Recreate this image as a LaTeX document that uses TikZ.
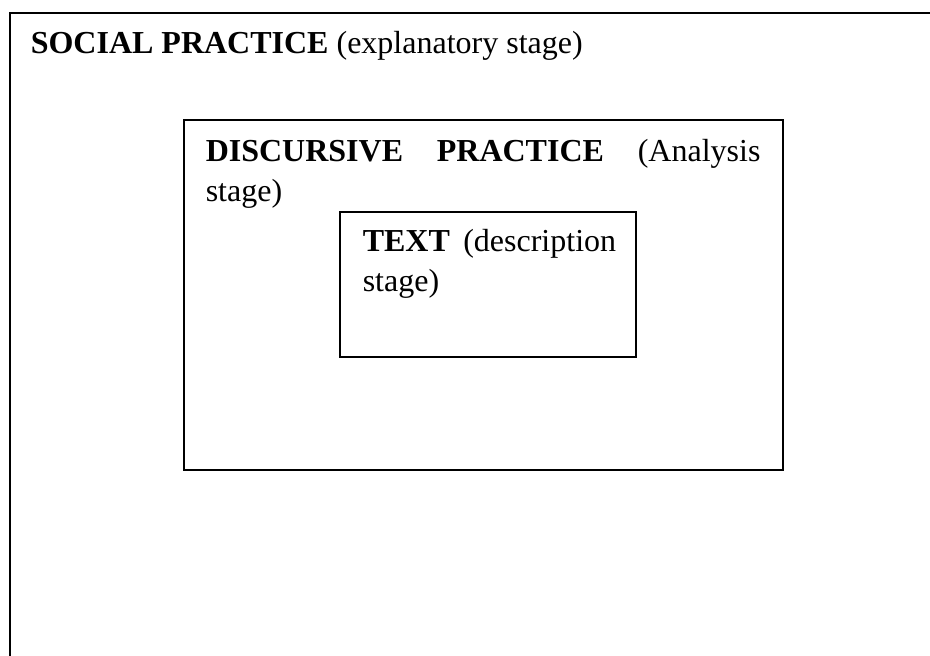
\documentclass[tikz,border=0pt]{standalone}
\usepackage{fontspec}
\setmainfont{Liberation Serif}
\tolerance=10000
\begin{document}
\begin{tikzpicture}[x=0.375pt,y=-0.375pt,line width=0.6pt,
  labeltext/.style={inner sep=0pt,font=\fontsize{12}{15}\selectfont},
  boxlabel/.style={labeltext,anchor=north west,align=justify}]
\useasboundingbox (0,0) rectangle (930,655);
\clip (0,0) rectangle (930,655);
% outer frame, runs off the page at the right and at the bottom
\draw (10,13) rectangle (960,700);
\node[labeltext,anchor=base west] (social) at (30,53) {\textbf{SOCIAL PRACTICE} (explanatory stage)};
% middle frame
\draw (184,120) rectangle (783,470);
\node[boxlabel,text width=208pt] (discursive) at (205,138) {\textbf{DISCURSIVE PRACTICE} (Analysis\linebreak stage)};
% inner frame
\draw (340,212) rectangle (636,357);
\node[boxlabel,text width=95pt] (text) at (362,228) {\textbf{TEXT} (description\linebreak stage)};
\end{tikzpicture}
\end{document}
